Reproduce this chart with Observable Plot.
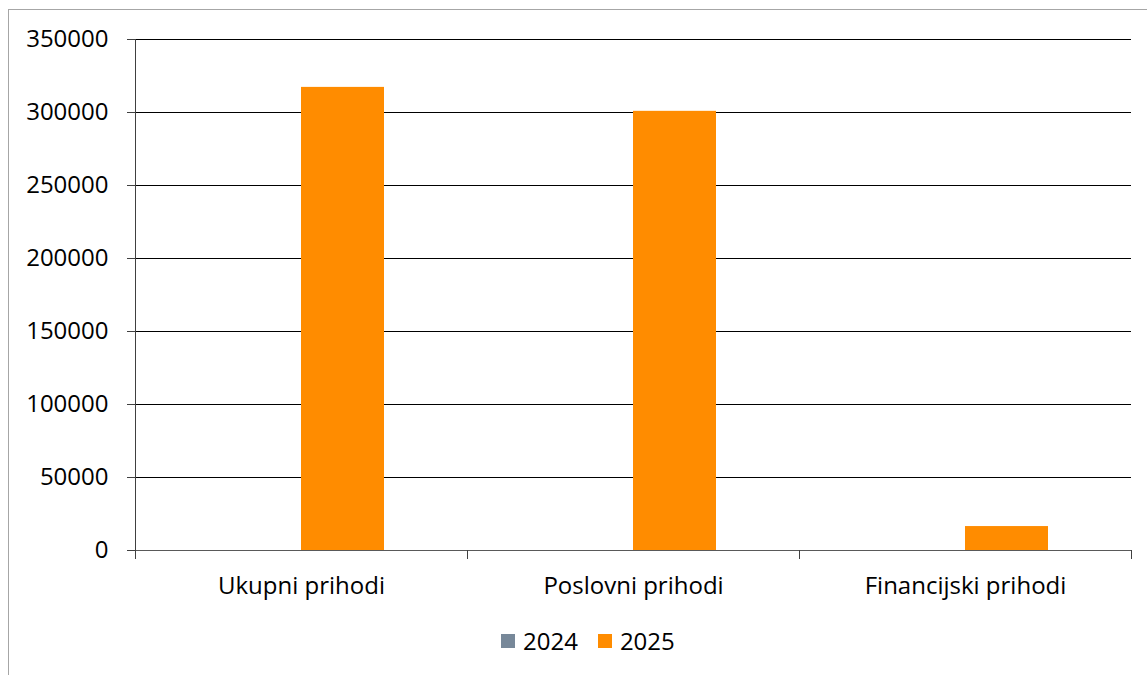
<!DOCTYPE html>
<html>
<head>
<meta charset="utf-8">
<script src="https://cdn.jsdelivr.net/npm/d3@7"></script>
<script src="https://cdn.jsdelivr.net/npm/@observablehq/plot@0.6"></script>
<style>
  html, body { margin: 0; padding: 0; background: #fff; overflow: hidden; }
  #wrap { position: relative; width: 1147px; height: 675px; overflow: hidden; font-family: "Open Sans", sans-serif; }
  #frame { position: absolute; left: 8px; top: 9px; width: 1200px; height: 720px; border: 1px solid #a6a6a6; box-sizing: border-box; pointer-events: none; }
  #chart { position: absolute; left: 0; top: 0; }
  #legend { position: absolute; left: 501px; top: 627px; display: flex; align-items: center; font-size: 24px; color: #000; line-height: 28px; }
  .sw { width: 14px; height: 14px; display: inline-block; margin-right: 8px; }
  .item { display: flex; align-items: center; margin-right: 20px; }
</style>
</head>
<body>
<div id="wrap">
  <div id="frame"></div>
  <div id="chart"></div>
  <div id="legend"></div>
</div>
<script>
const categories = ["Ukupni prihodi", "Poslovni prihodi", "Financijski prihodi"];
const years = ["2024", "2025"];
const values2024 = [0, 0, 0];
const values2025 = [317200, 300800, 16400];
const yTicks = [0, 50000, 100000, 150000, 200000, 250000, 300000, 350000];
const colors = ["#778899", "#FF8C00"];

const data = [];
categories.forEach((c, i) => {
  data.push({category: c, year: years[0], value: values2024[i]});
  data.push({category: c, year: years[1], value: values2025[i]});
});

const W = 1147, H = 675, mL = 135, mR = 16, mT = 39, mB = 125;
const bw = (W - mL - mR) / categories.length;
const barW = bw / 4;

const chart = Plot.plot({
  width: W,
  height: H,
  marginLeft: mL,
  marginRight: mR,
  marginTop: mT,
  marginBottom: mB,
  style: {fontFamily: "Open Sans", fontSize: "24px", background: "transparent", color: "#000"},
  x: {type: "band", domain: categories, padding: 0},
  y: {domain: [0, 350000]},
  color: {domain: years, range: colors},
  marks: [
    Plot.ruleY(yTicks.filter(d => d > 0), {stroke: "#000", strokeWidth: 1}),
    Plot.barY(data.filter(d => d.year === years[0]), {x: "category", y: "value", fill: "year", insetLeft: barW, insetRight: bw - 2 * barW}),
    Plot.barY(data.filter(d => d.year === years[1]), {x: "category", y: "value", fill: "year", insetLeft: 2 * barW, insetRight: bw - 3 * barW}),
    Plot.ruleY([0], {stroke: "#595959", strokeWidth: 1.2}),
    Plot.ruleX([categories[0]], {x: d => d, dx: -bw / 2, y1: 0, y2: 350000, insetTop: 9, stroke: "#404040"}),
    Plot.ruleX(categories, {x: d => d, dx: -bw / 2, y1: 0, y2: 0, insetTop: 9, stroke: "#404040"}),
    Plot.ruleX([categories[categories.length - 1]], {x: d => d, dx: bw / 2, y1: 0, y2: 0, insetTop: 9, stroke: "#404040"}),
    Plot.axisY({ticks: yTicks, tickFormat: d => String(d), tickSize: 8, tickPadding: 19, fontSize: 24, stroke: "#404040", label: null}),
    Plot.axisX({tickSize: 0, tickPadding: 26, fontSize: 24, label: null})
  ]
});
document.getElementById("chart").appendChild(chart);

const legend = document.getElementById("legend");
years.forEach((y, i) => {
  const item = document.createElement("div");
  item.className = "item";
  const sw = document.createElement("span");
  sw.className = "sw";
  sw.style.background = colors[i];
  const t = document.createElement("span");
  t.textContent = y;
  item.appendChild(sw);
  item.appendChild(t);
  legend.appendChild(item);
});
</script>
</body>
</html>
